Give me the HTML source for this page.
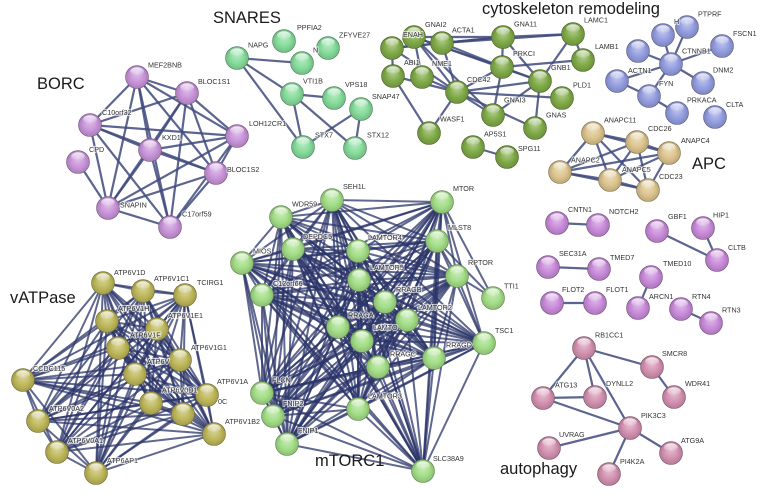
<!DOCTYPE html>
<html><head><meta charset="utf-8"><style>
html,body{margin:0;padding:0;background:#fff;}
svg{display:block;}
.lb text{font-family:"Liberation Sans",Arial,sans-serif;font-size:7.2px;fill:#333;stroke:#fff;stroke-opacity:0.65;stroke-width:2.2px;paint-order:stroke;stroke-linejoin:round;}
.tt text{font-family:"Liberation Sans",Arial,sans-serif;font-size:16.5px;fill:#1a1a1a;}
</style></head><body>
<svg id="s" width="768" height="500" viewBox="0 0 768 500" xmlns="http://www.w3.org/2000/svg">
<defs id="defs">
<linearGradient id="hl" x1="0" y1="0" x2="0" y2="1"><stop offset="0" stop-color="#fff" stop-opacity="0.85"/><stop offset="1" stop-color="#fff" stop-opacity="0.05"/></linearGradient>
</defs>
<g id="edges" stroke-linecap="round"></g>
<g id="nodes"></g>
<g class="lb">
<text x="148" y="67.5">MEF2BNB</text>
<text x="198" y="84">BLOC1S1</text>
<text x="102" y="115">C10orf32</text>
<text x="89" y="152">CPD</text>
<text x="162" y="140">KXD1</text>
<text x="249" y="126">LOH12CR1</text>
<text x="227" y="172">BLOC1S2</text>
<text x="120" y="207.5">SNAPIN</text>
<text x="182" y="216.5">C17orf59</text>

<text x="297" y="30">PPFIA2</text>
<text x="339" y="37.5">ZFYVE27</text>
<text x="248" y="47.5">NAPG</text>
<text x="313" y="52.5">N</text>
<text x="303" y="83.5">VTI1B</text>
<text x="345" y="87">VPS18</text>
<text x="372" y="99">SNAP47</text>
<text x="315" y="137.5">STX7</text>
<text x="367" y="137.5">STX12</text>

<text x="403" y="37">ENAH</text>
<text x="425" y="27">GNAI2</text>
<text x="452" y="32.5">ACTA1</text>
<text x="514" y="26.5">GNA11</text>
<text x="584" y="22.5">LAMC1</text>
<text x="404" y="65">ABI1</text>
<text x="432" y="66">NME1</text>
<text x="513" y="56">PRKCI</text>
<text x="595" y="49">LAMB1</text>
<text x="467" y="82">CDC42</text>
<text x="551" y="70">GNB1</text>
<text x="573" y="87.5">PLD1</text>
<text x="504" y="102.5">GNAI3</text>
<text x="546" y="117.5">GNAS</text>
<text x="440" y="121.5">WASF1</text>
<text x="484" y="136.5">AP5S1</text>
<text x="518" y="151">SPG11</text>

<text x="674" y="24">H</text>
<text x="698" y="16.5">PTPRF</text>
<text x="733" y="36">FSCN1</text>
<text x="682" y="53.5">CTNNB1</text>
<text x="628" y="73">ACTN1</text>
<text x="713" y="72.5">DNM2</text>
<text x="659" y="86">FYN</text>
<text x="687" y="102.5">PRKACA</text>
<text x="726" y="107">CLTA</text>

<text x="604" y="122.5">ANAPC11</text>
<text x="648" y="131">CDC26</text>
<text x="681" y="143">ANAPC4</text>
<text x="571" y="162.5">ANAPC2</text>
<text x="622" y="172">ANAPC5</text>
<text x="659" y="179">CDC23</text>

<text x="568" y="212">CNTN1</text>
<text x="609" y="214">NOTCH2</text>
<text x="668" y="219">GBF1</text>
<text x="713" y="217.5">HIP1</text>
<text x="728" y="250">CLTB</text>
<text x="559" y="256">SEC31A</text>
<text x="610" y="260">TMED7</text>
<text x="663" y="266">TMED10</text>
<text x="562" y="292">FLOT2</text>
<text x="606" y="292">FLOT1</text>
<text x="649" y="299">ARCN1</text>
<text x="692" y="299">RTN4</text>
<text x="722" y="312.5">RTN3</text>

<text x="595" y="337.5">RB1CC1</text>
<text x="662" y="356">SMCR8</text>
<text x="555" y="387.5">ATG13</text>
<text x="606" y="386">DYNLL2</text>
<text x="685" y="386">WDR41</text>
<text x="641" y="418">PIK3C3</text>
<text x="559" y="437">UVRAG</text>
<text x="681" y="443">ATG9A</text>
<text x="620" y="464">PI4K2A</text>

<text x="114" y="275">ATP6V1D</text>
<text x="154" y="281">ATP6V1C1</text>
<text x="197" y="285">TCIRG1</text>
<text x="118" y="311">ATP6V1H</text>
<text x="168" y="318">ATP6V1E1</text>
<text x="130" y="337.5">ATP6V1F</text>
<text x="191" y="350">ATP6V1G1</text>
<text x="147" y="364">ATP6V</text>
<text x="33" y="371">CCDC115</text>
<text x="217" y="384">ATP6V1A</text>
<text x="162" y="392.5">ATP6V0D1</text>
<text x="218" y="404">0C</text>
<text x="49" y="411">ATP6V0A2</text>
<text x="225" y="424">ATP6V1B2</text>
<text x="68" y="443">ATP6V0A1</text>
<text x="107" y="463">ATP6AP1</text>

<text x="343" y="189">SEH1L</text>
<text x="292" y="206.5">WDR59</text>
<text x="303" y="239">DEPDC5</text>
<text x="253" y="253.5">MIOS</text>
<text x="273" y="286">C12orf66</text>
<text x="368" y="240">LAMTOR4</text>
<text x="370" y="270">LAMTOR5</text>
<text x="396" y="292">RRAGB</text>
<text x="348" y="317.5">RRAGA</text>
<text x="373" y="330">LAMTO</text>
<text x="418" y="310">LAMTOR2</text>
<text x="453" y="191">MTOR</text>
<text x="448" y="230">MLST8</text>
<text x="468" y="265">RPTOR</text>
<text x="504" y="288.5">TTI1</text>
<text x="495" y="333">TSC1</text>
<text x="446" y="347.5">RRAGD</text>
<text x="390" y="356.5">RRAGC</text>
<text x="272" y="382.5">FLCN</text>
<text x="283" y="406">FNIP2</text>
<text x="298" y="433">FNIP1</text>
<text x="368" y="398.5">LAMTOR3</text>
<text x="433" y="461">SLC38A9</text>
</g>
<g class="tt">
<text x="37" y="89">BORC</text>
<text x="213" y="23">SNARES</text>
<text x="482" y="14">cytoskeleton remodeling</text>
<text x="692" y="169">APC</text>
<text x="10" y="303">vATPase</text>
<text x="315" y="466">mTORC1</text>
<text x="500" y="474">autophagy</text>
</g>
</svg>
<script>
(function(){
var NS="http://www.w3.org/2000/svg";
var COL={borc:'#c994da',snare:'#86dc9b',cyto:'#80ab48',blue:'#949ee0',apc:'#dcc48e',pair:'#c98bda',auto:'#d391b0',vat:'#beb85b',mtor:'#a3de87'};
var N={
MEF2BNB:[137,77,'borc'],BLOC1S1:[187,93,'borc'],C10orf32:[90,125,'borc'],CPD:[78,162,'borc'],KXD1:[150,150,'borc'],LOH12CR1:[237,136,'borc'],BLOC1S2:[216,173,'borc'],SNAPIN:[108,208,'borc'],C17orf59:[170,227,'borc'],
NAPG:[237,58,'snare'],PPFIA2:[284,41,'snare'],ZFYVE27:[328,48,'snare'],NX:[302,63,'snare'],VTI1B:[292,94,'snare'],VPS18:[334,98,'snare'],SNAP47:[361,109,'snare'],STX7:[303,147,'snare'],STX12:[355,148,'snare'],
ENAH:[392,48,'cyto'],GNAI2:[414,37,'cyto'],ACTA1:[442,43,'cyto'],GNA11:[503,37,'cyto'],LAMC1:[573,34,'cyto'],ABI1:[393,76,'cyto'],NME1:[422,77,'cyto'],PRKCI:[502,67,'cyto'],LAMB1:[583,60,'cyto'],CDC42:[457,92,'cyto'],GNB1:[540,81,'cyto'],PLD1:[562,98,'cyto'],GNAI3:[493,115,'cyto'],GNAS:[535,128,'cyto'],WASF1:[429,133,'cyto'],AP5S1:[473,147,'cyto'],SPG11:[507,157,'cyto'],
BX:[638,51,'blue'],H:[663,35,'blue'],PTPRF:[687,27,'blue'],FSCN1:[722,46,'blue'],CTNNB1:[671,64,'blue'],ACTN1:[617,81,'blue'],DNM2:[703,83,'blue'],FYN:[649,96,'blue'],PRKACA:[677,113,'blue'],CLTA:[715,117,'blue'],
ANAPC11:[593,133,'apc'],CDC26:[637,142,'apc'],ANAPC4:[669,153,'apc'],ANAPC2:[560,172,'apc'],ANAPC5:[610,180,'apc'],CDC23:[648,190,'apc'],
CNTN1:[557,223,'pair'],NOTCH2:[598,225,'pair'],GBF1:[657,231,'pair'],HIP1:[703,228,'pair'],CLTB:[717,260,'pair'],SEC31A:[548,267,'pair'],TMED7:[599,269,'pair'],TMED10:[651,277,'pair'],FLOT2:[552,303,'pair'],FLOT1:[595,303,'pair'],ARCN1:[638,308,'pair'],RTN4:[681,309,'pair'],RTN3:[711,323,'pair'],
RB1CC1:[584,348,'auto'],SMCR8:[652,367,'auto'],ATG13:[543,398,'auto'],DYNLL2:[595,397,'auto'],WDR41:[674,397,'auto'],PIK3C3:[630,428,'auto'],UVRAG:[549,448,'auto'],ATG9A:[671,453,'auto'],PI4K2A:[609,474,'auto'],
V1D:[103,283,'vat'],V1C1:[143,291,'vat'],TCIRG1:[185,295,'vat'],V1H:[107,321,'vat'],V1E1:[157,329,'vat'],V1F:[118,348,'vat'],V0B:[135,374,'vat'],V1G1:[180,360,'vat'],CCDC115:[23,380,'vat'],V0D1:[151,403,'vat'],V0C:[183,414,'vat'],V1A:[207,395,'vat'],V0A2:[38,421,'vat'],V1B2:[214,434,'vat'],V0A1:[57,452,'vat'],AP1:[96,473,'vat'],
SEH1L:[332,200,'mtor'],WDR59:[281,217,'mtor'],DEPDC5:[293,249,'mtor'],MIOS:[242,263,'mtor'],C12orf66:[262,295,'mtor'],LAMTOR4:[358,251,'mtor'],LAMTOR5:[359,280,'mtor'],RRAGB:[385,302,'mtor'],RRAGA:[338,327,'mtor'],LAMTOR1:[362,341,'mtor'],LAMTOR2:[407,320,'mtor'],MTOR:[442,202,'mtor'],MLST8:[437,241,'mtor'],RPTOR:[457,276,'mtor'],TTI1:[493,298,'mtor'],TSC1:[484,343,'mtor'],RRAGD:[434,358,'mtor'],RRAGC:[378,367,'mtor'],FLCN:[262,393,'mtor'],FNIP2:[273,416,'mtor'],FNIP1:[287,444,'mtor'],LAMTOR3:[358,409,'mtor'],SLC38A9:[423,471,'mtor']
};
var sparse=[];
function complete(list,out){for(var i=0;i<list.length;i++)for(var j=i+1;j<list.length;j++)out.push([list[i],list[j]]);}
complete(['MEF2BNB','BLOC1S1','C10orf32','KXD1','LOH12CR1','BLOC1S2','SNAPIN','C17orf59'],sparse);
sparse.push(['CPD','SNAPIN']);
sparse.push(['NAPG','NX'],['NAPG','VTI1B'],['NAPG','STX7'],['VTI1B','VPS18'],['VTI1B','STX7'],['VTI1B','STX12'],['SNAP47','STX7'],['SNAP47','STX12']);
sparse.push(['ENAH','ABI1'],['ENAH','ACTA1'],['ENAH','GNA11'],['ENAH','CDC42'],['ABI1','WASF1'],['ABI1','CDC42'],['GNAI2','GNA11'],['GNAI2','CDC42'],['GNAI2','GNB1'],['GNAI2','GNAI3'],['GNAI2','PRKCI'],['GNAI2','NME1'],['ACTA1','GNA11'],['ACTA1','CDC42'],['ACTA1','PRKCI'],['ACTA1','LAMC1'],['GNA11','PRKCI'],['GNA11','GNB1'],['GNA11','LAMC1'],['LAMC1','LAMB1'],['LAMC1','GNB1'],['PRKCI','LAMB1'],['PRKCI','CDC42'],['PRKCI','GNB1'],['PRKCI','GNAI3'],['CDC42','GNB1'],['CDC42','PLD1'],['CDC42','GNAI3'],['CDC42','WASF1'],['CDC42','NME1'],['CDC42','GNAS'],['GNB1','GNAI3'],['GNB1','GNAS'],['AP5S1','SPG11']);
sparse.push(['CTNNB1','PTPRF'],['CTNNB1','H'],['CTNNB1','BX'],['CTNNB1','FSCN1'],['CTNNB1','ACTN1'],['CTNNB1','DNM2'],['CTNNB1','FYN'],['ACTN1','FYN'],['FYN','PRKACA']);
complete(['ANAPC11','CDC26','ANAPC4','ANAPC2','ANAPC5','CDC23'],sparse);
sparse.push(['CNTN1','NOTCH2'],['GBF1','CLTB'],['HIP1','CLTB'],['SEC31A','TMED7'],['FLOT2','FLOT1'],['TMED10','ARCN1'],['RTN4','RTN3']);
sparse.push(['RB1CC1','ATG13'],['RB1CC1','DYNLL2'],['RB1CC1','PIK3C3'],['RB1CC1','SMCR8'],['SMCR8','WDR41'],['ATG13','DYNLL2'],['ATG13','PIK3C3'],['UVRAG','PIK3C3'],['PIK3C3','ATG9A'],['PIK3C3','PI4K2A']);
var dense=[];
complete(['V1D','V1C1','TCIRG1','V1H','V1E1','V1F','V1G1','V0B','CCDC115','V1A','V0D1','V0C','V0A2','V1B2','V0A1','AP1'],dense);
complete(['SEH1L','WDR59','DEPDC5','MIOS','C12orf66','LAMTOR4','LAMTOR5','RRAGB','RRAGA','LAMTOR1','LAMTOR2','MTOR','MLST8','RPTOR','TSC1','RRAGD','RRAGC','FLCN','FNIP2','FNIP1','LAMTOR3','SLC38A9'],dense);
dense.push(['TTI1','MTOR'],['TTI1','MLST8'],['TTI1','RPTOR']);
var eg=document.getElementById('edges');
function line(a,b,w,c,o){var p=N[a],q=N[b];if(!p||!q)return;var l=document.createElementNS(NS,'line');l.setAttribute('x1',p[0]);l.setAttribute('y1',p[1]);l.setAttribute('x2',q[0]);l.setAttribute('y2',q[1]);l.setAttribute('stroke',c);l.setAttribute('stroke-width',w);l.setAttribute('stroke-opacity',o);eg.appendChild(l);}
sparse.forEach(function(e){line(e[0],e[1],2.2,'#3f4a7c',0.85);});
dense.forEach(function(e){line(e[0],e[1],2.0,'#2c366a',0.75);});
function shade(hex,f){var r=parseInt(hex.substr(1,2),16),g=parseInt(hex.substr(3,2),16),b=parseInt(hex.substr(5,2),16);function s(c){return Math.round(f>0?c+(255-c)*f:c*(1+f));}return 'rgb('+s(r)+','+s(g)+','+s(b)+')';}
var defs=document.getElementById('defs');
Object.keys(COL).forEach(function(k){var c=COL[k];var g=document.createElementNS(NS,'radialGradient');g.setAttribute('id','g-'+k);g.setAttribute('cx','0.5');g.setAttribute('cy','0.55');g.setAttribute('r','0.55');g.setAttribute('fx','0.5');g.setAttribute('fy','0.3');
[[0,shade(c,0.45)],[0.55,c],[0.88,shade(c,-0.15)],[1,shade(c,-0.3)]].forEach(function(s){var st=document.createElementNS(NS,'stop');st.setAttribute('offset',s[0]);st.setAttribute('stop-color',s[1]);g.appendChild(st);});defs.appendChild(g);});
var ng=document.getElementById('nodes');
Object.keys(N).forEach(function(k){var p=N[k];var c=document.createElementNS(NS,'circle');c.setAttribute('cx',p[0]);c.setAttribute('cy',p[1]);c.setAttribute('r',11.5);c.setAttribute('fill','url(#g-'+p[2]+')');c.setAttribute('stroke',shade(COL[p[2]],-0.4));c.setAttribute('stroke-width',0.6);ng.appendChild(c);
var e=document.createElementNS(NS,'ellipse');e.setAttribute('cx',p[0]);e.setAttribute('cy',p[1]-5.8);e.setAttribute('rx',6.8);e.setAttribute('ry',3.9);e.setAttribute('fill','url(#hl)');ng.appendChild(e);});
})();
</script>
</body></html>
